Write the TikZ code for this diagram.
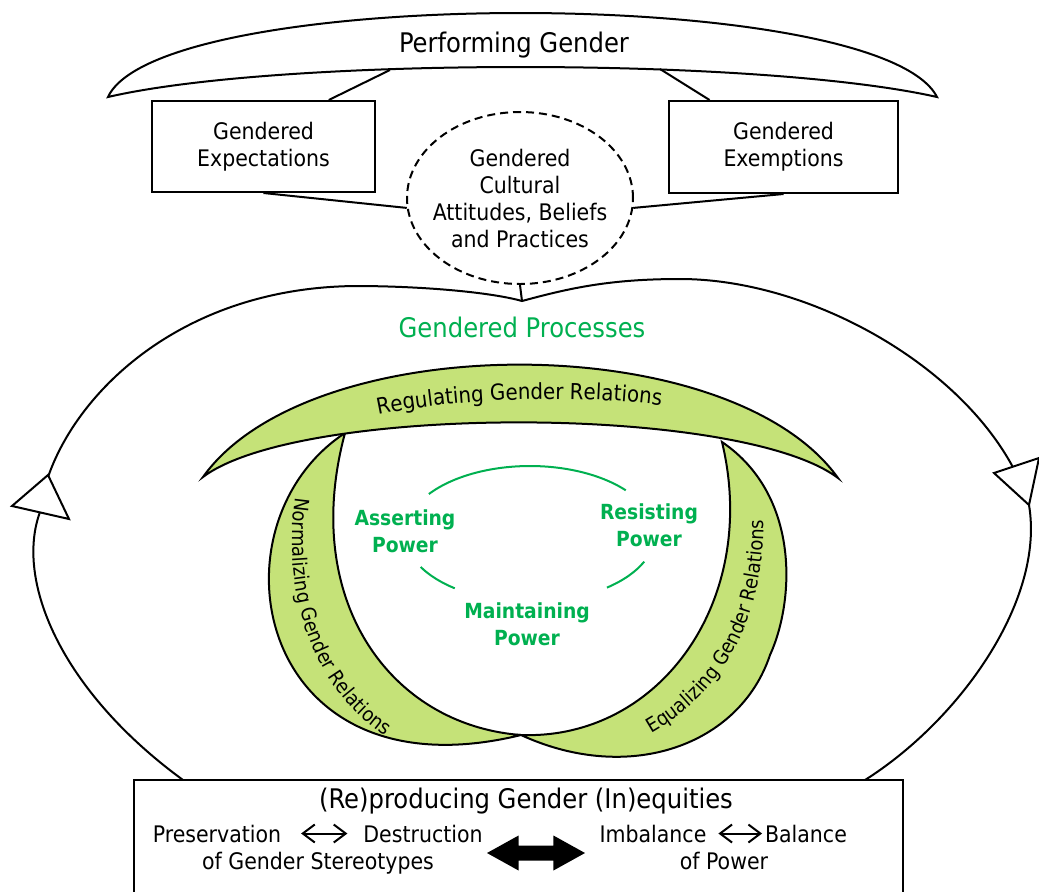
\documentclass[tikz,border=0pt]{standalone}
\usepackage{fontspec}
\setmainfont{DejaVu Sans Condensed}
\usetikzlibrary{shapes.geometric, shapes.arrows, arrows.meta, calc, decorations.text}

\definecolor{procgreen}{RGB}{0,176,80}
\definecolor{bandgreen}{RGB}{197,226,120}

\newcommand\titlefont{\fontsize{13.5}{16}\selectfont}
\newcommand\boxfont{\fontsize{11.4}{13.5}\selectfont}
\newcommand\ribbonfont{\fontsize{11}{13}\selectfont}
\newcommand\bandfont{\fontsize{10}{12}\selectfont}
\newcommand\powerfont{\fontsize{10.4}{13.5}\selectfont\bfseries}

\begin{document}
\begin{tikzpicture}[x = .5pt, y = -.5pt, line width = 1pt,
    textbox/.style = {draw, align = center, font = \boxfont, inner sep = 0pt},
    band/.style = {draw, fill = bandgreen},
    power/.style = {text = procgreen, font = \powerfont, align = center},
    powerarc/.style = {draw = procgreen, x radius = 125, y radius = 68},
    rowtext/.style = {font = \boxfont, inner sep = 0pt, anchor = base}]

    \useasboundingbox (0, 0) rectangle (1039, 891);
    \clip (0, 0) rectangle (1039, 891);

    % performing gender
    \draw (108, 97) .. controls (160, -15) and (880, -15) .. (937, 97)
                    .. controls (760, 57) and (280, 57) .. cycle;
    \node [font = \titlefont] (perf) at (514, 45) {Performing Gender};
    \coordinate (perfL) at (390, 70);
    \coordinate (perfR) at (660, 69);

    \node [textbox, minimum width = 111.5pt, minimum height = 45.5pt] (expect) at (263.5, 146.5) {Gendered\\Expectations};
    \node [textbox, minimum width = 114.5pt, minimum height = 46pt] (exempt) at (783.5, 147) {Gendered\\Exemptions};
    \node [textbox, ellipse, dash pattern = on 4pt off 2.5pt, inner xsep = -8pt, inner ysep = 0pt,
           minimum width = 113pt, minimum height = 86pt] (attitudes) at (520, 198) {Gendered\\Cultural\\Attitudes, Beliefs\\and Practices};

    \draw (perfL) -- ($(expect.north west)!.79!(expect.north east)$);
    \draw (perfR) -- ($(exempt.north west)!.18!(exempt.north east)$);
    \draw (expect.south) -- (attitudes.185);
    \draw (exempt.south) -- (attitudes.-5);

    % gendered processes loop
    \coordinate (cusp) at (522, 301);
    \coordinate (loopL) at (183, 780);
    \coordinate (loopR) at (865, 780);
    \draw (loopL) .. controls (60, 690) and (15, 580) .. (40, 512)
                  .. controls (50, 420) and (160, 288) .. (355, 286)
                  .. controls (420, 286) and (490, 292) .. (cusp)
                  .. controls (570, 288) and (610, 279) .. (680, 279)
                  .. controls (820, 279) and (990, 380) .. (1029, 505)
                  .. controls (1045, 600) and (960, 720) .. (loopR);
    \draw (attitudes.south) -- (cusp);
    \draw [fill = white] (48, 475) -- (12, 506) -- (69, 519) -- cycle;
    \draw [fill = white] (994, 473) -- (1039, 458) -- (1029, 505) -- cycle;
    \node [text = procgreen, font = \titlefont] (processes) at (522, 327) {Gendered Processes};

    % normalizing and equalizing
    \draw [band] (345, 433) .. controls (205, 525) and (255, 800) .. (521, 735)
                 .. controls (390, 725) and (300, 600) .. cycle;
    \draw [band] (722, 442) .. controls (800, 495) and (795, 600) .. (770, 655)
                 .. controls (740, 745) and (630, 785) .. (521, 735)
                 .. controls (660, 740) and (760, 600) .. cycle;
    % regulating
    \draw [band] (203, 477) .. controls (310, 327) and (730, 327) .. (838, 478)
                 .. controls (740, 404) and (300, 404) .. cycle;

    \path [decorate, decoration = {text along path, text align = center,
        text = {|\ribbonfont|Regulating Gender Relations}}]
        (340, 425) .. controls (420, 397) and (600, 390) .. (700, 412);
    \path [decorate, decoration = {text along path, text align = center,
        text = {|\bandfont|Normalizing Gender Relations}}]
        (298, 480) .. controls (280, 570) and (300, 690) .. (400, 745);
    \path [decorate, decoration = {text along path, text align = center,
        text = {|\bandfont|Equalizing Gender Relations}}]
        (615, 750) .. controls (720, 710) and (775, 620) .. (762, 480);

    % power
    \coordinate (powerc) at (530, 534);
    \draw [powerarc] ($(powerc) + (-144:125 and 68)$) arc [start angle = -144, end angle = -40];
    \draw [powerarc] ($(powerc) + (127:125 and 68)$) arc [start angle = 127, end angle = 151];
    \draw [powerarc] ($(powerc) + (24:125 and 68)$) arc [start angle = 24, end angle = 52];
    \node [power] (assert) at (405, 531) {Asserting\\Power};
    \node [power] (resist) at (649, 525) {Resisting\\Power};
    \node [power] (maintain) at (527, 624) {Maintaining\\Power};

    % (re)producing gender (in)equities
    \draw (134, 780) rectangle (903, 910);
    \node [font = \titlefont, inner sep = 0pt, anchor = base] (repro) at (526, 808) {(Re)producing Gender (In)equities};
    \node [rowtext] (pres) at (217, 842) {Preservation};
    \node [rowtext] (destr) at (423, 842) {Destruction};
    \node [rowtext] (stereo) at (318, 869) {of Gender Stereotypes};
    \node [rowtext] (imbal) at (653, 842) {Imbalance};
    \node [rowtext] (bal) at (806, 842) {Balance};
    \node [rowtext] (ofpower) at (724, 869) {of Power};
    \draw [<->, >= {Straight Barb[length = 6pt, width = 9pt]}, shorten < = 9.5pt, shorten > = 7.5pt] (pres) -- (destr);
    \draw [<->, >= {Straight Barb[length = 6pt, width = 9pt]}, shorten < = 5.5pt, shorten > = 1pt] (imbal) -- (bal);
    \node [double arrow, fill = black, inner xsep = 0pt, inner ysep = 3.25pt, minimum height = 49pt,
           double arrow head extend = 5pt, double arrow tip angle = 58] (tradeoff) at (536, 853) {};
\end{tikzpicture}
\end{document}
